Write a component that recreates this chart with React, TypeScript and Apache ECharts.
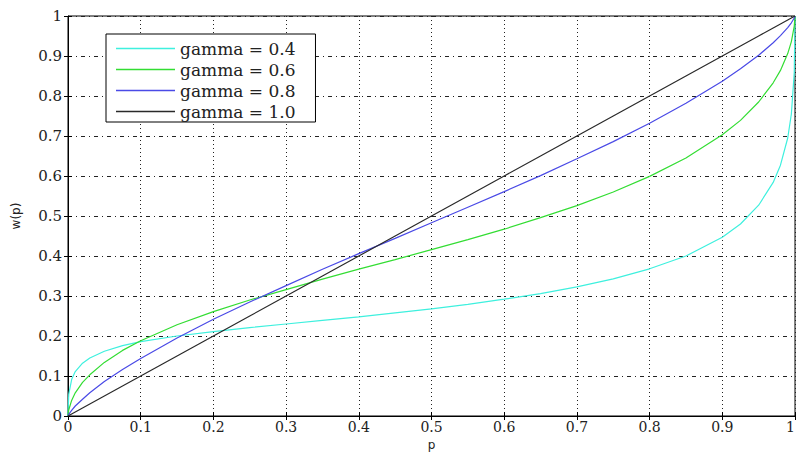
import React, { useEffect, useRef } from "react";
import * as echarts from "echarts";

const pValues = [0, 0.001, 0.005, 0.01, 0.02, 0.03, 0.05, 0.075, 0.1, 0.15, 0.2, 0.25, 0.3, 0.35, 0.4, 0.45, 0.5, 0.55, 0.6, 0.65, 0.7, 0.75, 0.8, 0.85, 0.9, 0.925, 0.95, 0.97, 0.98, 0.99, 0.995, 0.999, 1];

const gamma04 = [0, 0.054, 0.091, 0.111, 0.132, 0.145, 0.162, 0.176, 0.186, 0.2, 0.211, 0.221, 0.23, 0.239, 0.248, 0.258, 0.268, 0.279, 0.292, 0.306, 0.323, 0.343, 0.368, 0.4, 0.447, 0.48, 0.527, 0.584, 0.627, 0.695, 0.755, 0.859, 1];
const gamma06 = [0, 0.015, 0.039, 0.058, 0.084, 0.103, 0.134, 0.164, 0.188, 0.228, 0.261, 0.29, 0.316, 0.342, 0.367, 0.391, 0.416, 0.441, 0.467, 0.496, 0.526, 0.56, 0.599, 0.645, 0.703, 0.739, 0.785, 0.833, 0.864, 0.906, 0.936, 0.975, 1];
const gamma08 = [0, 0.004, 0.014, 0.025, 0.042, 0.058, 0.086, 0.116, 0.144, 0.195, 0.242, 0.285, 0.326, 0.367, 0.406, 0.444, 0.483, 0.522, 0.561, 0.601, 0.643, 0.686, 0.732, 0.782, 0.837, 0.868, 0.902, 0.933, 0.951, 0.971, 0.983, 0.995, 1];
const gamma10 = [0, 0.001, 0.005, 0.01, 0.02, 0.03, 0.05, 0.075, 0.1, 0.15, 0.2, 0.25, 0.3, 0.35, 0.4, 0.45, 0.5, 0.55, 0.6, 0.65, 0.7, 0.75, 0.8, 0.85, 0.9, 0.925, 0.95, 0.97, 0.98, 0.99, 0.995, 0.999, 1];

const seriesNames = ["gamma = 0.4", "gamma = 0.6", "gamma = 0.8", "gamma = 1.0"];
const seriesColors = ["#3ef0de", "#33dd33", "#4a4ae6", "#2a2a2a"];
const seriesValues = [gamma04, gamma06, gamma08, gamma10];

const serif = "DejaVu Serif";

export default function App() {
  const ref = useRef<HTMLDivElement>(null);
  useEffect(() => {
    if (!ref.current) return;
    const chart = echarts.init(ref.current, null, { renderer: "svg" });
    const hideAxis = {
      axisLabel: { show: false },
      axisLine: { show: false },
      splitLine: { show: false },
      axisTick: { show: true, inside: true, length: 4, lineStyle: { color: "#000" } },
    };
    chart.setOption({
      animation: false,
      backgroundColor: "#fff",
      grid: {
        left: 68,
        right: 2,
        top: 16,
        bottom: 36,
        containLabel: false,
        outerBoundsMode: "none",
        show: true,
        borderColor: "#000",
        borderWidth: 1,
        backgroundColor: "transparent",
      },
      legend: {
        orient: "vertical",
        left: 106,
        top: 34,
        padding: [6, 20, 2, 10],
        itemWidth: 59,
        itemHeight: 16,
        itemGap: 4,
        icon: "path://M0,0 L59,0 L59,1.4 L0,1.4 Z",
        symbolKeepAspect: true,
        backgroundColor: "#fff",
        borderColor: "#000",
        borderWidth: 1,
        borderRadius: 0,
        textStyle: { fontFamily: serif, fontSize: 17, color: "#222" },
        data: seriesNames,
      },
      xAxis: [
        {
          type: "value",
          min: 0,
          max: 1,
          interval: 0.1,
          name: "p",
          nameLocation: "middle",
          nameGap: 17,
          nameTextStyle: { fontFamily: "DejaVu Sans", fontSize: 12, color: "#222", lineHeight: 12 },
          axisLine: { show: true, lineStyle: { color: "#000" } },
          axisTick: { show: true, inside: true, length: 4, lineStyle: { color: "#000" } },
          axisLabel: { fontFamily: serif, fontSize: 14, color: "#222", margin: 4, alignMaxLabel: "right" },
          splitLine: { show: true, lineStyle: { color: "#222", type: [1, 3], width: 1 } },
        },
        { type: "value", min: 0, max: 1, interval: 0.1, position: "top", ...hideAxis },
      ],
      yAxis: [
        {
          type: "value",
          min: 0,
          max: 1,
          interval: 0.1,
          name: "w(p)",
          nameLocation: "middle",
          nameGap: 46,
          nameRotate: 90,
          nameTextStyle: { fontFamily: "DejaVu Sans", fontSize: 12, color: "#222" },
          axisLine: { show: true, lineStyle: { color: "#000" } },
          axisTick: { show: true, inside: true, length: 4, lineStyle: { color: "#000" } },
          axisLabel: { fontFamily: serif, fontSize: 15, color: "#222", margin: 6 },
          splitLine: { show: true, lineStyle: { color: "#222", type: [4, 4, 1, 4], width: 1 } },
        },
        { type: "value", min: 0, max: 1, interval: 0.1, position: "right", ...hideAxis },
      ],
      series: seriesNames.map((name, i) => ({
        name,
        type: "line",
        symbol: "none",
        smooth: false,
        color: seriesColors[i],
        lineStyle: { color: seriesColors[i], width: 1.2 },
        data: pValues.map((p, j) => [p, seriesValues[i][j]]),
      })),
    });
    return () => chart.dispose();
  }, []);
  return <div ref={ref} style={{ width: 797, height: 452, position: "absolute", left: 0, top: 0 }} />;
}
